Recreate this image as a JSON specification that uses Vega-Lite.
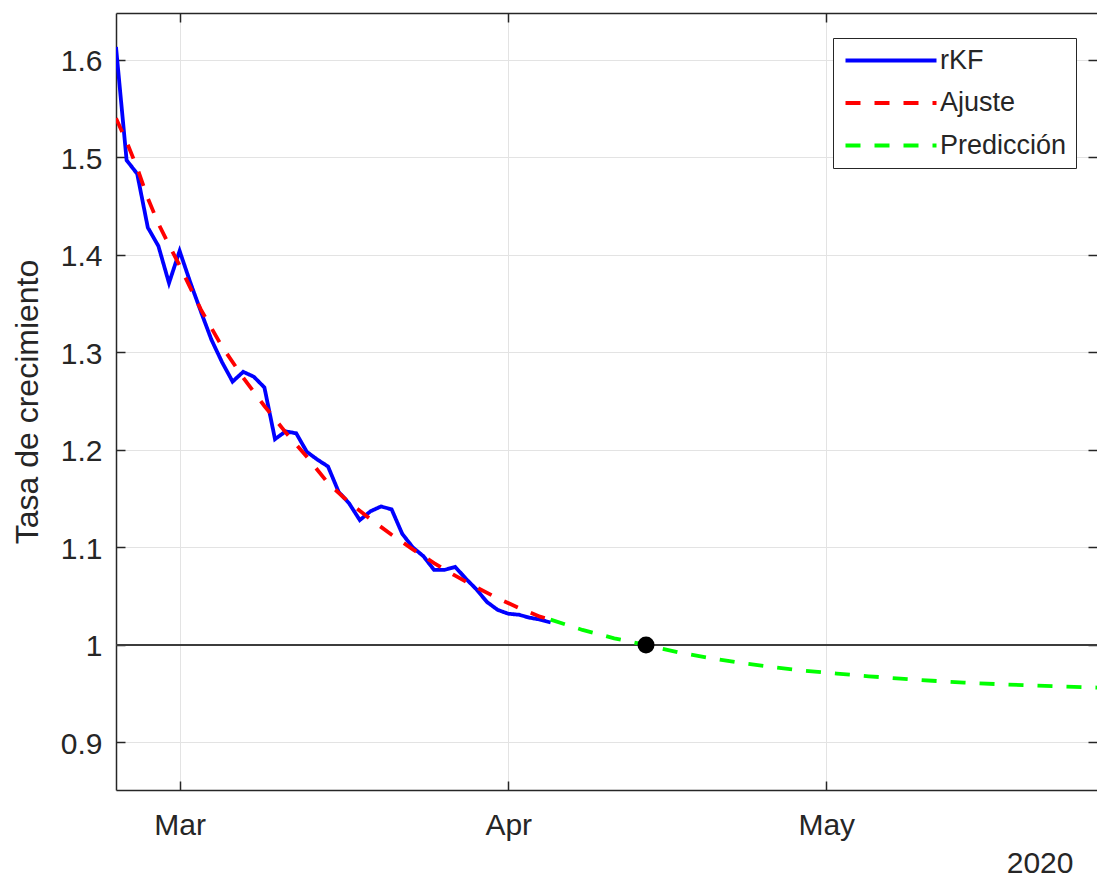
{
  "$schema": "https://vega.github.io/schema/vega-lite/v6.json",
  "width": 981,
  "height": 777,
  "autosize": {"type": "none"},
  "padding": {"left": 116, "top": 13, "right": 0, "bottom": 87},
  "background": "white",
  "config": {"view": {"stroke": null}, "font": "Liberation Sans"},
  "datasets": {
    "series": [
      {"s": "rKF", "t": "2020-02-24", "v": 1.613},
      {"s": "rKF", "t": "2020-02-25", "v": 1.497},
      {"s": "rKF", "t": "2020-02-26", "v": 1.483},
      {"s": "rKF", "t": "2020-02-27", "v": 1.428},
      {"s": "rKF", "t": "2020-02-28", "v": 1.409},
      {"s": "rKF", "t": "2020-02-29", "v": 1.371},
      {"s": "rKF", "t": "2020-03-01", "v": 1.404},
      {"s": "rKF", "t": "2020-03-02", "v": 1.372},
      {"s": "rKF", "t": "2020-03-03", "v": 1.342},
      {"s": "rKF", "t": "2020-03-04", "v": 1.313},
      {"s": "rKF", "t": "2020-03-05", "v": 1.29},
      {"s": "rKF", "t": "2020-03-06", "v": 1.27},
      {"s": "rKF", "t": "2020-03-07", "v": 1.28},
      {"s": "rKF", "t": "2020-03-08", "v": 1.275},
      {"s": "rKF", "t": "2020-03-09", "v": 1.264},
      {"s": "rKF", "t": "2020-03-10", "v": 1.211},
      {"s": "rKF", "t": "2020-03-11", "v": 1.219},
      {"s": "rKF", "t": "2020-03-12", "v": 1.217},
      {"s": "rKF", "t": "2020-03-13", "v": 1.198},
      {"s": "rKF", "t": "2020-03-14", "v": 1.19},
      {"s": "rKF", "t": "2020-03-15", "v": 1.183},
      {"s": "rKF", "t": "2020-03-16", "v": 1.157},
      {"s": "rKF", "t": "2020-03-17", "v": 1.145},
      {"s": "rKF", "t": "2020-03-18", "v": 1.128},
      {"s": "rKF", "t": "2020-03-19", "v": 1.137},
      {"s": "rKF", "t": "2020-03-20", "v": 1.142},
      {"s": "rKF", "t": "2020-03-21", "v": 1.139},
      {"s": "rKF", "t": "2020-03-22", "v": 1.114},
      {"s": "rKF", "t": "2020-03-23", "v": 1.1},
      {"s": "rKF", "t": "2020-03-24", "v": 1.091},
      {"s": "rKF", "t": "2020-03-25", "v": 1.077},
      {"s": "rKF", "t": "2020-03-26", "v": 1.077},
      {"s": "rKF", "t": "2020-03-27", "v": 1.08},
      {"s": "rKF", "t": "2020-03-28", "v": 1.068},
      {"s": "rKF", "t": "2020-03-29", "v": 1.057},
      {"s": "rKF", "t": "2020-03-30", "v": 1.044},
      {"s": "rKF", "t": "2020-03-31", "v": 1.036},
      {"s": "rKF", "t": "2020-04-01", "v": 1.032},
      {"s": "rKF", "t": "2020-04-02", "v": 1.031},
      {"s": "rKF", "t": "2020-04-03", "v": 1.028},
      {"s": "rKF", "t": "2020-04-04", "v": 1.026},
      {"s": "rKF", "t": "2020-04-05", "v": 1.023},
      {"s": "Ajuste", "t": "2020-02-24", "v": 1.54},
      {"s": "Ajuste", "t": "2020-02-25", "v": 1.516},
      {"s": "Ajuste", "t": "2020-02-26", "v": 1.489},
      {"s": "Ajuste", "t": "2020-02-27", "v": 1.458},
      {"s": "Ajuste", "t": "2020-02-28", "v": 1.432},
      {"s": "Ajuste", "t": "2020-02-29", "v": 1.41},
      {"s": "Ajuste", "t": "2020-03-01", "v": 1.389},
      {"s": "Ajuste", "t": "2020-03-03", "v": 1.344},
      {"s": "Ajuste", "t": "2020-03-05", "v": 1.306},
      {"s": "Ajuste", "t": "2020-03-07", "v": 1.274},
      {"s": "Ajuste", "t": "2020-03-09", "v": 1.245},
      {"s": "Ajuste", "t": "2020-03-11", "v": 1.218},
      {"s": "Ajuste", "t": "2020-03-13", "v": 1.193},
      {"s": "Ajuste", "t": "2020-03-15", "v": 1.166},
      {"s": "Ajuste", "t": "2020-03-17", "v": 1.146},
      {"s": "Ajuste", "t": "2020-03-19", "v": 1.129},
      {"s": "Ajuste", "t": "2020-03-21", "v": 1.113},
      {"s": "Ajuste", "t": "2020-03-23", "v": 1.098},
      {"s": "Ajuste", "t": "2020-03-25", "v": 1.084},
      {"s": "Ajuste", "t": "2020-03-27", "v": 1.071},
      {"s": "Ajuste", "t": "2020-03-29", "v": 1.059},
      {"s": "Ajuste", "t": "2020-03-31", "v": 1.048},
      {"s": "Ajuste", "t": "2020-04-02", "v": 1.038},
      {"s": "Ajuste", "t": "2020-04-04", "v": 1.029},
      {"s": "Ajuste", "t": "2020-04-05", "v": 1.026},
      {"s": "Predicción", "t": "2020-04-05", "v": 1.026},
      {"s": "Predicción", "t": "2020-04-08", "v": 1.0154},
      {"s": "Predicción", "t": "2020-04-11", "v": 1.0068},
      {"s": "Predicción", "t": "2020-04-14", "v": 1.0},
      {"s": "Predicción", "t": "2020-04-17", "v": 0.9925},
      {"s": "Predicción", "t": "2020-04-20", "v": 0.9866},
      {"s": "Predicción", "t": "2020-04-23", "v": 0.9815},
      {"s": "Predicción", "t": "2020-04-26", "v": 0.9772},
      {"s": "Predicción", "t": "2020-04-29", "v": 0.9736},
      {"s": "Predicción", "t": "2020-05-02", "v": 0.9706},
      {"s": "Predicción", "t": "2020-05-05", "v": 0.9679},
      {"s": "Predicción", "t": "2020-05-08", "v": 0.9655},
      {"s": "Predicción", "t": "2020-05-11", "v": 0.9633},
      {"s": "Predicción", "t": "2020-05-14", "v": 0.9614},
      {"s": "Predicción", "t": "2020-05-17", "v": 0.9599},
      {"s": "Predicción", "t": "2020-05-20", "v": 0.9586},
      {"s": "Predicción", "t": "2020-05-23", "v": 0.9575},
      {"s": "Predicción", "t": "2020-05-26", "v": 0.9565},
      {"s": "Predicción", "t": "2020-05-28", "v": 0.9558}
    ],
    "cruce": [{"t": "2020-04-14", "v": 1.0}],
    "umbral": [{"v": 1.0}]
  },
  "resolve": {"axis": {"x": "independent", "y": "independent"}},
  "layer": [
    {
      "data": {"name": "umbral"},
      "mark": {"type": "rule", "color": "#3c3c3c", "strokeWidth": 2},
      "encoding": {
        "y": {
          "field": "v", "type": "quantitative",
          "scale": {"domain": [0.8513, 1.6479]},
          "axis": {"orient": "right", "values": [0.9, 1, 1.1, 1.2, 1.3, 1.4, 1.5, 1.6], "labels": false, "grid": false, "domain": false, "title": null, "tickSize": -9, "tickColor": "#262626", "tickWidth": 1.5}
        }
      }
    },
    {
      "data": {"name": "series"},
      "mark": {"type": "line", "clip": true, "strokeWidth": 3.8},
      "encoding": {
        "x": {
          "field": "t", "type": "temporal",
          "scale": {"type": "utc", "domain": [{"year": 2020, "month": 2, "date": 24, "utc": true}, {"year": 2020, "month": 5, "date": 26, "hours": 13, "utc": true}]},
          "axis": {
            "orient": "bottom",
            "values": [{"year": 2020, "month": 3, "date": 1, "utc": true}, {"year": 2020, "month": 4, "date": 1, "utc": true}, {"year": 2020, "month": 5, "date": 1, "utc": true}],
            "format": "%b",
            "labelFontSize": 30, "labelColor": "#262626", "labelBaseline": "alphabetic", "labelPadding": 53, "labelFlush": false,
            "tickSize": -9, "tickColor": "#262626", "tickWidth": 1.5,
            "grid": true, "gridColor": "#e3e3e3", "gridWidth": 1,
            "domainColor": "#262626", "domainWidth": 1.5,
            "title": "2020", "titleFontSize": 30, "titleFontWeight": "normal", "titleColor": "#262626",
            "titleX": 957, "titleY": 82, "titleAlign": "right", "titleBaseline": "alphabetic"
          }
        },
        "y": {
          "field": "v", "type": "quantitative",
          "scale": {"domain": [0.8513, 1.6479]},
          "axis": {
            "orient": "left",
            "values": [0.9, 1, 1.1, 1.2, 1.3, 1.4, 1.5, 1.6],
            "format": ".1~f",
            "labelFontSize": 30, "labelColor": "#262626", "labelPadding": 23, "labelOffset": 2,
            "tickSize": -9, "tickColor": "#262626", "tickWidth": 1.5,
            "grid": true, "gridColor": "#e3e3e3", "gridWidth": 1,
            "domainColor": "#262626", "domainWidth": 1.5,
            "title": "Tasa de crecimiento", "titleFontSize": 32, "titleFontWeight": "normal", "titleColor": "#262626",
            "titleAngle": -90, "titleX": -79, "titleY": 388.5, "titleAlign": "center", "titleBaseline": "alphabetic"
          }
        },
        "color": {
          "field": "s", "type": "nominal",
          "scale": {"domain": ["rKF", "Ajuste", "Predicción"], "range": ["#0000ff", "#ff0000", "#00ff00"]},
          "legend": {
            "orient": "none", "legendX": 717, "legendY": 25, "title": null,
            "fillColor": "white", "strokeColor": "#262626", "padding": 9, "cornerRadius": 0,
            "symbolType": "M-1,0H8.1", "symbolSize": 400, "symbolStrokeWidth": 3.8,
            "labelFontSize": 27, "labelColor": "#262626", "labelOffset": 71, "rowPadding": 14.5
          }
        },
        "strokeDash": {
          "field": "s", "type": "nominal",
          "scale": {"domain": ["rKF", "Ajuste", "Predicción"], "range": [[1, 0], [15, 14], [15, 14]]},
          "legend": {
            "orient": "none", "legendX": 717, "legendY": 25, "title": null,
            "fillColor": "white", "strokeColor": "#262626", "padding": 9, "cornerRadius": 0,
            "symbolType": "M-1,0H8.1", "symbolSize": 400, "symbolStrokeWidth": 3.8,
            "labelFontSize": 27, "labelColor": "#262626", "labelOffset": 71, "rowPadding": 14.5
          }
        }
      }
    },
    {
      "data": {"name": "cruce"},
      "mark": {"type": "point", "filled": true, "color": "black", "opacity": 1, "size": 289},
      "encoding": {
        "x": {
          "field": "t", "type": "temporal",
          "scale": {"type": "utc", "domain": [{"year": 2020, "month": 2, "date": 24, "utc": true}, {"year": 2020, "month": 5, "date": 26, "hours": 13, "utc": true}]},
          "axis": {
            "orient": "top",
            "values": [{"year": 2020, "month": 3, "date": 1, "utc": true}, {"year": 2020, "month": 4, "date": 1, "utc": true}, {"year": 2020, "month": 5, "date": 1, "utc": true}],
            "labels": false, "grid": false, "title": null,
            "tickSize": -9, "tickColor": "#262626", "tickWidth": 1.5,
            "domainColor": "#262626", "domainWidth": 1.5
          }
        },
        "y": {"field": "v", "type": "quantitative", "scale": {"domain": [0.8513, 1.6479]}, "axis": null}
      }
    }
  ]
}
